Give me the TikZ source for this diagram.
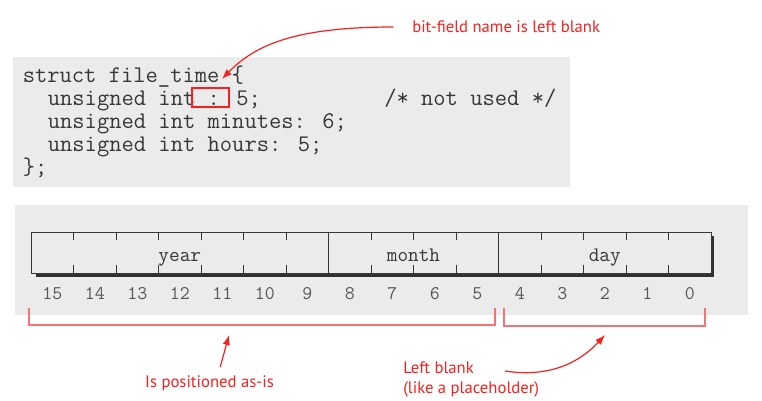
\documentclass[tikz,border=0pt]{standalone}
\usepackage{fontspec}
\newfontfamily\notefont{PT Sans}
\usetikzlibrary{arrows.meta}
\definecolor{notered}{RGB}{250,30,30}
\definecolor{bracketred}{RGB}{245,115,115}
\definecolor{scangray}{RGB}{235,235,235}
\definecolor{inkgray}{RGB}{55,55,55}

\begin{document}
\begin{tikzpicture}[x=0.75pt,y=-0.75pt,
  note/.style={text=notered,font=\notefont\fontsize{12.5}{15}\selectfont,inner sep=0pt},
  code/.style={text=inkgray,font=\ttfamily\fontsize{17.9}{20}\selectfont,inner sep=0pt,anchor=base west},
  field/.style={text=inkgray,font=\ttfamily\fontsize{15.5}{18}\selectfont,inner sep=0pt,anchor=base},
  bitno/.style={text=inkgray!85,font=\ttfamily\fontsize{14.5}{17}\selectfont,inner sep=0pt,anchor=base},
  redarrow/.style={draw=notered,line width=0.9pt,-{Latex[length=7.5pt,width=5.5pt]}},
  brace/.style={draw=bracketred,line width=1.5pt}]
\useasboundingbox (0,0) rectangle (762,400);

% scanned pieces
\fill[scangray] (13,57) rectangle (570,187);
\fill[scangray] (15,205) rectangle (748,315);

% the struct
\path
(22.5,82) node[code] (line1) {struct file\_time \{};
\path
(47.6,105) node[code] (line2) {unsigned int : 5;};
\path
(384,105) node[code] (comment) {/* not used */};
\path
(47.6,128) node[code] (line3) {unsigned int minutes: 6;};
\path
(47.6,151) node[code] (line4) {unsigned int hours: 5;};
\path
(22.5,174) node[code] (line5) {\};};
\draw[notered,line width=0.9pt] (192,88) rectangle (229,107);

% the 16 bits
\fill[inkgray!90!black] (36,273) rectangle (714,277);
\fill[inkgray!90!black] (711,236) rectangle (714,277);
\draw[inkgray,line width=0.75pt] (31,232) rectangle (711,273);
\foreach \i in {1,...,15}{
  \draw[inkgray,line width=0.6pt] ({31+42.5*\i},232) -- ++(0,8);
  \draw[inkgray,line width=0.6pt] ({31+42.5*\i},273) -- ++(0,-8);
}
\draw[inkgray,line width=0.6pt] (328.5,232) -- (328.5,273);
\draw[inkgray,line width=0.6pt] (498.5,232) -- (498.5,273);
\path
(179.75,261) node[field] (year) {year};
\path
(413.5,261) node[field] (month) {month};
\path
(604.75,261) node[field] (day) {day};
\foreach \b in {0,...,15}
  \path ({31+42.5*(15.5-\b)},299) node[bitno] (b\b) {\b};

% brackets
\draw[brace] (29,308) |- (495,325) -- (495,308);
\draw[brace] (504,308) |- (705,326) -- (705,308);

% notes
\path
(412,27) node[note,anchor=west] (blanklabel) {bit-field name is left blank};
\path
(209.5,383) node[note] (asis) {Is positioned as-is};
\path
(403,379) node[note,anchor=west,align=left] (placeholder) {Left blank\\(like a placeholder)};
\coordinate (nametip) at (222,79);
\coordinate (asistip) at (229,335);
\coordinate (blankstart) at (505,371);
\coordinate (blanktip) at (605,335);
\draw[redarrow] ([xshift=-14pt]blanklabel.west) .. controls (295,27) and (255,45) .. (nametip);
\draw[redarrow] ([xshift=8pt,yshift=6pt]asis.north) -- (asistip);
\draw[redarrow] (blankstart) .. controls (550,378) and (580,362) .. (blanktip);
\end{tikzpicture}
\end{document}
